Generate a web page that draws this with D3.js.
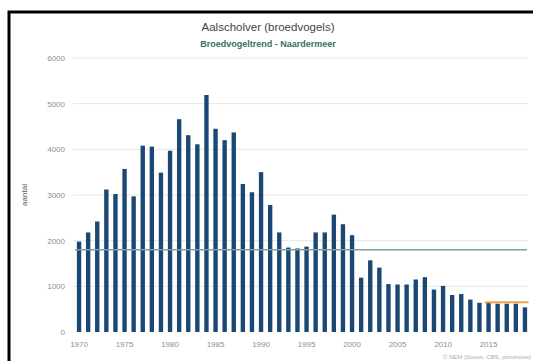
<!DOCTYPE html>
<html>
  <head>
    <meta charset="utf-8">
    <script src="https://d3js.org/d3.v7.min.js"></script>
    <style>
      body { margin: 0px; background: #fff; }
      text { font-family: "Liberation Sans", Arial, sans-serif; }
      .grid line { stroke: #e6e6e6; }
      .tick text { fill: #8f8f8f; font-size: 8px; }
    </style>
  </head>
  <body>
    <svg width="533" height="361"></svg>
    <script>
      const years = d3.range(1970, 2020);
      const counts = [
        1980, 2180, 2420, 3120, 3020, 3570, 2970, 4080, 4060, 3490,
        3970, 4660, 4310, 4110, 5190, 4450, 4200, 4370, 3240, 3060,
        3500, 2780, 2180, 1850, 1830, 1870, 2180, 2180, 2570, 2360,
        2120, 1190, 1570, 1410, 1050, 1040, 1040, 1150, 1200, 930,
        1010, 810, 830, 710, 640, 640, 620, 620, 620, 540
      ];
      const yTicks = [0, 1000, 2000, 3000, 4000, 5000, 6000];
      const xTickYears = [1970, 1975, 1980, 1985, 1990, 1995, 2000, 2005, 2010, 2015];
      const longTermLevel = 1800;
      const recentLevel = [2015, 2019, 650];

      const data = years.map((y, i) => ({ year: y, value: counts[i] }));

      const svg = d3.select('svg');

      // frame (runs off the right and bottom of the picture)
      svg.append('rect')
          .attr('x', 9).attr('y', 12)
          .attr('width', 540).attr('height', 370)
          .attr('fill', 'none')
          .attr('stroke', '#000')
          .attr('stroke-width', 3);

      const plotLeft = 73, plotRight = 528, plotTop = 58, plotBottom = 332;

      const xScale = d3.scaleBand()
          .domain(years)
          .range([74.5, 529.5])
          .paddingInner(0.52)
          .paddingOuter(0.26);

      const yScale = d3.scaleLinear()
          .domain([0, 6000])
          .range([plotBottom, plotTop]);

      // gridlines
      svg.append('g')
          .attr('class', 'grid')
        .selectAll('line').data(yTicks.filter(d => d > 0))
        .enter().append('line')
          .attr('x1', plotLeft).attr('x2', plotRight)
          .attr('y1', d => yScale(d)).attr('y2', d => yScale(d));

      // y axis
      const yAxisG = svg.append('g')
          .attr('transform', `translate(${plotLeft - 4},0)`)
          .call(d3.axisLeft(yScale).tickValues(yTicks).tickSize(0).tickPadding(4).tickFormat(d3.format('d')));
      yAxisG.select('.domain').remove();

      // x axis
      const xAxisG = svg.append('g')
          .attr('transform', `translate(0,${plotBottom + 4})`)
          .call(d3.axisBottom(xScale).tickValues(xTickYears).tickSize(0).tickPadding(5));
      xAxisG.select('.domain').remove();

      // bars
      svg.append('g').selectAll('rect').data(data)
        .enter().append('rect')
          .attr('x', d => xScale(d.year))
          .attr('y', d => yScale(d.value))
          .attr('width', xScale.bandwidth())
          .attr('height', d => plotBottom - yScale(d.value))
          .attr('fill', '#1a4773');

      // long-term average line
      svg.append('line')
          .attr('x1', 75).attr('x2', 527)
          .attr('y1', yScale(longTermLevel)).attr('y2', yScale(longTermLevel))
          .attr('stroke', '#78a294')
          .attr('stroke-width', 1.5);

      // recent level line
      svg.append('line')
          .attr('x1', xScale(recentLevel[0]) - 1.5)
          .attr('x2', xScale(recentLevel[1]) + xScale.bandwidth() + 1.5)
          .attr('y1', yScale(recentLevel[2])).attr('y2', yScale(recentLevel[2]))
          .attr('stroke', '#f2a33a')
          .attr('stroke-width', 2);

      // titles
      svg.append('text')
          .attr('x', 268).attr('y', 31)
          .attr('text-anchor', 'middle')
          .style('font-size', '11.5px')
          .style('fill', '#444')
          .text('Aalscholver (broedvogels)');

      svg.append('text')
          .attr('x', 268).attr('y', 47)
          .attr('text-anchor', 'middle')
          .style('font-size', '9px')
          .style('font-weight', 'bold')
          .style('fill', '#3a6f62')
          .text('Broedvogeltrend - Naardermeer');

      svg.append('text')
          .attr('transform', `translate(27,${(plotTop + plotBottom) / 2}) rotate(-90)`)
          .attr('text-anchor', 'middle')
          .style('font-size', '8px')
          .style('fill', '#555')
          .text('aantal');

      svg.append('text')
          .attr('x', 531).attr('y', 359)
          .attr('text-anchor', 'end')
          .style('font-size', '6px')
          .style('fill', '#aaa')
          .text('© NEM (Sovon, CBS, provincies)');
    </script>
  </body>
</html>
